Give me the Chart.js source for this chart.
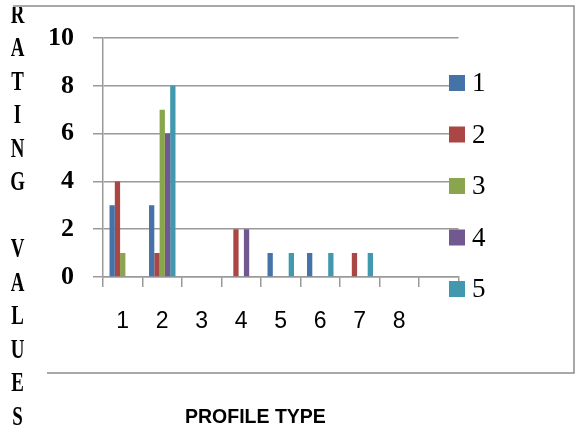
<!DOCTYPE html>
<html>
<head>
<meta charset="utf-8">
<title>Rating values by profile type</title>
<script src="https://cdn.jsdelivr.net/npm/chart.js@4.4.1/dist/chart.umd.min.js"></script>
<style>
  html, body { margin: 0; padding: 0; background: #ffffff; }
  canvas { display: block; }
</style>
</head>
<body>
<canvas id="chart" width="581" height="430"></canvas>
<script>
// Profile types along the x axis (the last slot is left unlabeled)
const categories = ['1', '2', '3', '4', '5', '6', '7', '8', ''];

// Rating values for each of the five series
const series1 = [3, 3, 0, 0, 1, 1, 0, 0, 0];
const series2 = [4, 1, 0, 2, 0, 0, 1, 0, 0];
const series3 = [1, 7, 0, 0, 0, 0, 0, 0, 0];
const series4 = [0, 6, 0, 2, 0, 0, 0, 0, 0];
const series5 = [0, 8, 0, 0, 1, 1, 1, 0, 0];

const seriesNames = ['1', '2', '3', '4', '5'];
const yTicks = [0, 2, 4, 6, 8, 10];

const colors = ['#4572A7', '#AA4643', '#89A54E', '#71588F', '#4198AF'];
const gridColor = '#9a9a9a';

const yTitleLetters = ['R', 'A', 'T', 'I', 'N', 'G', '', 'V', 'A', 'L', 'U', 'E', 'S'];
const xTitle = 'PROFILE TYPE';

// Frame, vertical axis title, horizontal axis title and the legend
const decorations = {
  id: 'decorations',
  afterDraw(chart) {
    const ctx = chart.ctx;
    ctx.save();

    // stacked letters of the vertical axis title
    ctx.save();
    ctx.beginPath();
    ctx.rect(0, 7, 60, 423);
    ctx.clip();
    ctx.fillStyle = '#000';
    ctx.font = 'bold 27px "Liberation Serif"';
    ctx.textAlign = 'center';
    ctx.textBaseline = 'middle';
    yTitleLetters.forEach((ch, i) => {
      if (!ch) return;
      const y = 15 + i * 33.5;
      ctx.save();
      ctx.translate(17.5, y);
      ctx.scale(0.7, 1);
      ctx.fillText(ch, 0, 1);
      ctx.restore();
    });
    ctx.restore();

    // outer frame (open on the left)
    ctx.strokeStyle = '#8c8c8c';
    ctx.lineWidth = 1.5;
    ctx.beginPath();
    ctx.moveTo(13, 6);
    ctx.lineTo(574, 6);
    ctx.lineTo(574, 373);
    ctx.lineTo(47, 373);
    ctx.stroke();

    // legend
    ctx.font = '27px "Liberation Serif"';
    ctx.textAlign = 'left';
    ctx.textBaseline = 'middle';
    chart.data.datasets.forEach((ds, i) => {
      const cy = 83 + i * 51.5;
      ctx.fillStyle = ds.backgroundColor;
      ctx.fillRect(449, cy - 8, 16, 16);
      ctx.fillStyle = '#000';
      ctx.fillText(ds.label, 472, cy + 1);
    });

    // horizontal axis title
    ctx.font = 'bold 19.5px "Liberation Sans"';
    ctx.textAlign = 'left';
    ctx.fillStyle = '#000';
    ctx.fillText(xTitle, 185, 418);

    ctx.restore();
  }
};

const seriesValues = [series1, series2, series3, series4, series5];

new Chart(document.getElementById('chart'), {
  type: 'bar',
  data: {
    labels: categories,
    datasets: seriesValues.map((vals, i) => ({
      label: seriesNames[i],
      data: vals,
      backgroundColor: colors[i],
      borderWidth: 0,
      categoryPercentage: 0.67,
      barPercentage: 1.0
    }))
  },
  options: {
    responsive: false,
    animation: false,
    devicePixelRatio: 1,
    layout: { padding: { top: 38, right: 122.5, left: 0, bottom: 0 } },
    plugins: {
      legend: { display: false },
      tooltip: { enabled: false }
    },
    scales: {
      x: {
        grid: {
          offset: true,
          drawOnChartArea: false,
          drawTicks: true,
          tickLength: 10,
          color: gridColor,
          lineWidth: 1.5
        },
        border: { display: true, color: gridColor, width: 1.5 },
        ticks: {
          color: '#000',
          font: { family: '"Liberation Sans"', size: 23 },
          padding: 21,
          maxRotation: 0,
          autoSkip: false
        },
        afterFit(scale) { scale.height = 153; }
      },
      y: {
        min: 0,
        max: 10,
        afterBuildTicks(scale) {
          scale.ticks = yTicks.map(v => ({ value: v }));
        },
        grid: {
          color: gridColor,
          lineWidth: 1.5,
          tickLength: 10
        },
        border: { display: true, color: gridColor, width: 1.5 },
        ticks: {
          color: '#000',
          font: { family: '"Liberation Serif"', size: 26, weight: 'bold' },
          padding: 19
        },
        afterFit(scale) { scale.width = 103; }
      }
    }
  },
  plugins: [decorations]
});
</script>
</body>
</html>
